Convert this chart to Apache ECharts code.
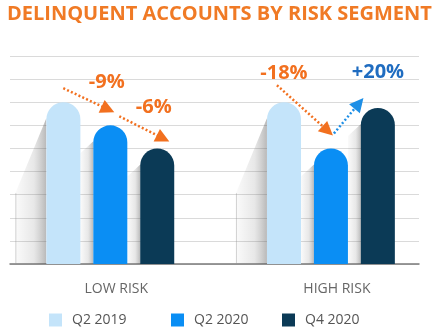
<!DOCTYPE html>
<html>
<head>
<meta charset="utf-8">
<script src="https://cdn.jsdelivr.net/npm/echarts@6/dist/echarts.min.js"></script>
<style>
  html, body { margin: 0; padding: 0; background: #ffffff; }
  #chart { width: 445px; height: 332px; }
</style>
</head>
<body>
<div id="chart"></div>
<script>
// Risk segments on the x axis and the three reporting periods
const categories = ['LOW RISK', 'HIGH RISK'];
const periods = ['Q2 2019', 'Q2 2020', 'Q4 2020'];

// Delinquent accounts (index units) per segment
const q2_2019 = [7.0, 7.0];
const q2_2020 = [6.0, 5.0];
const q4_2020 = [5.0, 6.75];

// Value axis range
const yMin = 0;
const yMax = 9;
const yStep = 1;

// Period-over-period change callouts: [segment, from period, to period, text]
const changes = [
  [0, 0, 1, '-9%'],
  [0, 1, 2, '-6%'],
  [1, 0, 1, '-18%'],
  [1, 1, 2, '+20%']
];

const seriesValues = [q2_2019, q2_2020, q4_2020];
const colors = ['#c4e4fa', '#0a8ef4', '#0b3a56'];
const ORANGE = '#f2701f';
const BAR_W = 34;
const BAR_STEP = 47;

const chart = echarts.init(document.getElementById('chart'), null, { renderer: 'canvas' });

// Shadow shapes cast to the lower left of every bar
const shadowData = [];
seriesValues.forEach(function (vals, s) {
  vals.forEach(function (v, c) { shadowData.push([c, v, s]); });
});

function renderShadow(params, api) {
  const c = api.value(0), v = api.value(1), s = api.value(2);
  const top = api.coord([c, v]);
  const base = api.coord([c, 0]);
  const left = top[0] + (s - 1) * BAR_STEP - BAR_W / 2;
  let dx, drop, dy;
  if (s === 0) { dx = 31; drop = 16; dy = 75; }
  else { dx = 13; drop = 16; dy = 12; }
  const y0 = top[1] + drop;
  const children = [{
    type: 'polygon',
    shape: { points: [[left, y0], [left - dx, y0 + dy], [left - dx, base[1]], [left, base[1]]] },
    style: {
      fill: new echarts.graphic.LinearGradient(0, 0, 1, 0, [
        { offset: 0, color: 'rgba(110,110,110,0.03)' },
        { offset: 0.6, color: 'rgba(110,110,110,0.16)' },
        { offset: 1, color: 'rgba(80,80,80,0.40)' }
      ])
    }
  }];
  if (s === 0) {
    children.push({
      type: 'line',
      shape: { x1: left - dx + 0.5, y1: y0 + dy, x2: left - dx + 0.5, y2: base[1] },
      style: { stroke: 'rgba(150,150,150,0.4)', lineWidth: 1 }
    });
  }
  return { type: 'group', children: children };
}

const barSeries = periods.map(function (name, s) {
  return {
    name: name,
    type: 'bar',
    xAxisIndex: 1,
    yAxisIndex: 1,
    data: seriesValues[s],
    barWidth: BAR_W,
    barGap: '38%',
    z: 5,
    itemStyle: { color: colors[s], borderRadius: [17, 17, 0, 0] }
  };
});

// One legend entry per period, each placed on its own
const legendLeft = [49, 171, 282];
const legends = periods.map(function (p, i) {
  return {
    data: [{ name: p, icon: 'rect', itemStyle: { color: colors[i] } }],
    left: legendLeft[i],
    top: 313,
    padding: 0,
    itemWidth: 13,
    itemHeight: 13,
    textStyle: { fontFamily: 'Open Sans', fontSize: 14, color: '#555555', padding: [0, 0, 0, 5] }
  };
});

chart.setOption({
  animation: false,
  backgroundColor: '#ffffff',
  title: {
    text: 'DELINQUENT ACCOUNTS BY RISK SEGMENT',
    left: 7,
    top: 1,
    padding: [3, 0, 0, 0],
    textStyle: { fontFamily: 'Open Sans', fontWeight: 'bold', fontSize: 20, color: '#f07a25' }
  },
  legend: legends,
  grid: [
    { left: 10, right: 26, top: 56, bottom: 68 },
    { left: -3.75, width: 445, top: 56, bottom: 68 }
  ],
  xAxis: [
    {
      gridIndex: 0, type: 'category', data: categories,
      axisLine: { show: true, lineStyle: { color: '#7a7a7a', width: 1.5 } },
      axisTick: { show: false }, axisLabel: { show: false }, splitLine: { show: false }
    },
    {
      gridIndex: 1, type: 'category', data: categories,
      axisLine: { show: false }, axisTick: { show: false },
      axisLabel: {
        margin: 18, fontFamily: 'Open Sans', fontSize: 14, color: '#666666',
        padding: [0, 0, 0, 12]
      }
    }
  ],
  yAxis: [
    {
      gridIndex: 0, type: 'value', min: yMin, max: yMax, interval: yStep,
      axisLine: { show: false }, axisTick: { show: false }, axisLabel: { show: false },
      splitLine: { show: true, lineStyle: { color: '#dadada', width: 1.2 } }
    },
    {
      gridIndex: 1, type: 'value', min: yMin, max: yMax, interval: yStep,
      axisLine: { show: false }, axisTick: { show: false }, axisLabel: { show: false },
      splitLine: { show: false }
    }
  ],
  series: [{
    type: 'custom',
    xAxisIndex: 1,
    yAxisIndex: 1,
    data: shadowData,
    renderItem: renderShadow,
    z: 3,
    silent: true
  }].concat(barSeries)
});

// Dotted arrows and change labels, positioned from the bar tops
function barTop(c, s) {
  const p = chart.convertToPixel({ xAxisIndex: 1, yAxisIndex: 1 }, [c, seriesValues[s][c]]);
  return [p[0] + (s - 1) * BAR_STEP, p[1]];
}

// pixel offsets for arrow tail, arrow tip and label, relative to the bar tops
const arrowStyle = [
  { tail: [0, -14], tip: [4, -13], label: [-3.5, -43], color: ORANGE, labelColor: ORANGE },
  { tail: [9, -9], tip: [12, -7], label: [-3.5, -41], color: ORANGE, labelColor: ORANGE },
  { tail: [-7, -17], tip: [2, -13], label: [0, -29], color: ORANGE, labelColor: ORANGE, labelFrom: true },
  { tail: [3, -15], tip: [-14.5, -10], label: [0, -36], color: '#1e8fe6', labelColor: '#1f6cc0' }
];

const graphics = [];
changes.forEach(function (ch, i) {
  const st = arrowStyle[i];
  const a = barTop(ch[0], ch[1]);
  const b = barTop(ch[0], ch[2]);
  const x1 = a[0] + st.tail[0], y1 = a[1] + st.tail[1];
  const x2 = b[0] + st.tip[0], y2 = b[1] + st.tip[1];
  const len = Math.hypot(x2 - x1, y2 - y1);
  const ux = (x2 - x1) / len, uy = (y2 - y1) / len;
  const headLen = 14, headHalf = 7;
  const bx = x2 - ux * headLen, by = y2 - uy * headLen;
  graphics.push({
    type: 'line', z: 20,
    shape: { x1: x1, y1: y1, x2: bx + ux * 2, y2: by + uy * 2 },
    style: { stroke: st.color, lineWidth: 2.5, lineDash: [2, 2.2] }
  });
  graphics.push({
    type: 'polygon', z: 20,
    shape: { points: [[x2, y2], [bx - uy * headHalf, by + ux * headHalf], [bx + uy * headHalf, by - ux * headHalf]] },
    style: { fill: st.color }
  });
  const anchor = st.labelFrom ? a : b;
  graphics.push({
    type: 'text', z: 20,
    x: anchor[0] + st.label[0], y: anchor[1] + st.label[1],
    style: {
      text: ch[3], fill: st.labelColor, fontFamily: 'Open Sans', fontWeight: 'bold', fontSize: 20,
      align: 'center', verticalAlign: 'middle'
    }
  });
});
chart.setOption({ graphic: graphics });
</script>
</body>
</html>
